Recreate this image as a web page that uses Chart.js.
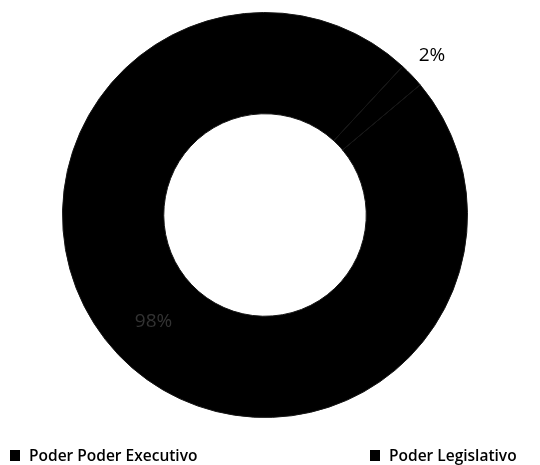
<!DOCTYPE html>
<html><head><meta charset="utf-8">
<script src="https://cdn.jsdelivr.net/npm/chart.js@4/dist/chart.umd.min.js"></script>
<style>html,body{margin:0;padding:0;background:#fff;}#wrap{width:540px;height:465px;position:relative;}</style>
</head><body><div id="wrap"><canvas id="c" width="540" height="465"></canvas></div>
<script>
const categories = ["Poder Poder Executivo", "Poder Legislativo"];
const values = [98, 2];
const valueLabels = ["98%", "2%"];
const colors = ["#000000", "#000000"];

const labelPlugin = {
  id: 'labelPlugin',
  afterDraw(chart) {
    const ctx = chart.ctx;
    const meta = chart.getDatasetMeta(0);
    ctx.save();
    meta.data.forEach((arc, i) => {
      const mid = (arc.startAngle + arc.endAngle) / 2;
      let r, color;
      if (i === 1) { r = arc.outerRadius + 28; color = '#000'; }
      else { r = (arc.innerRadius + arc.outerRadius) / 2 + 2; color = '#333333'; }
      const x = arc.x + Math.cos(mid) * r;
      const y = arc.y + Math.sin(mid) * r;
      ctx.font = '19px "Open Sans", sans-serif';
      ctx.fillStyle = color;
      ctx.textAlign = 'center';
      ctx.textBaseline = 'middle';
      ctx.fillText(valueLabels[i], x, y);
    });
    // legend
    const lx = [10, 370];
    ctx.font = '600 15.5px "Open Sans", sans-serif';
    ctx.textAlign = 'left';
    ctx.textBaseline = 'alphabetic';
    categories.forEach((c, i) => {
      ctx.fillStyle = colors[i];
      ctx.fillRect(lx[i], 450, 10, 11);
      ctx.fillStyle = '#000';
      ctx.fillText(c, lx[i] + 19, 461);
    });
    ctx.restore();
  }
};

new Chart(document.getElementById('c'), {
  type: 'doughnut',
  data: {
    labels: categories,
    datasets: [{
      data: values,
      backgroundColor: colors,
      borderColor: '#161616',
      borderWidth: 1,
      hoverOffset: 0
    }]
  },
  options: {
    responsive: false,
    animation: false,
    rotation: 50,
    cutout: '50%',
    layout: { padding: { left: 62, right: 72, top: 12, bottom: 47 } },
    plugins: { legend: { display: false }, tooltip: { enabled: false } }
  },
  plugins: [labelPlugin]
});
</script></body></html>
